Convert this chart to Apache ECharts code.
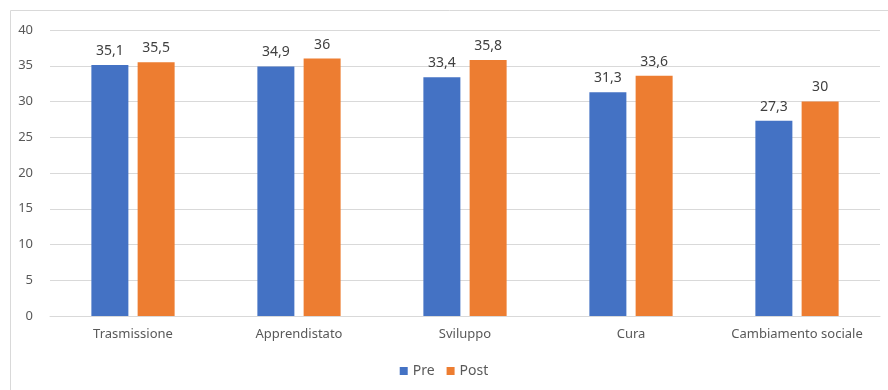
<!DOCTYPE html>
<html>
<head>
<meta charset="utf-8">
<script src="https://cdn.jsdelivr.net/npm/echarts@6/dist/echarts.min.js"></script>
<style>
  html, body { margin: 0; padding: 0; background: #fff; }
  #chart { width: 888px; height: 390px; }
</style>
</head>
<body>
<div id="chart"></div>
<script>
const categories = ['Trasmissione', 'Apprendistato', 'Sviluppo', 'Cura', 'Cambiamento sociale']
const preValues = [35.1, 34.9, 33.4, 31.3, 27.3]
const postValues = [35.5, 36, 35.8, 33.6, 30]

const chart = echarts.init(document.getElementById('chart'))

const fmt = p => String(p.value).replace('.', ',')
const labelStyle = {
  show: true,
  position: 'top',
  distance: 7,
  color: '#404040',
  fontSize: 14,
  fontFamily: 'Noto Sans',
  formatter: fmt
}

const option = {
  animation: false,
  textStyle: { fontFamily: 'Noto Sans' },
  graphic: [{
    type: 'rect',
    shape: { x: 10.5, y: 10.5, width: 900, height: 400 },
    style: { fill: 'none', stroke: '#d9d9d9', lineWidth: 1 },
    silent: true
  }],
  grid: { left: 50, right: 8, top: 30, bottom: 74 },
  legend: {
    bottom: 7,
    left: 'center',
    itemWidth: 8,
    itemHeight: 8,
    itemGap: 12,
    icon: 'rect',
    textStyle: { color: '#595959', fontSize: 14, fontFamily: 'Noto Sans' },
    data: ['Pre', 'Post']
  },
  xAxis: {
    type: 'category',
    data: categories,
    axisLine: { lineStyle: { color: '#d9d9d9' } },
    axisTick: { show: false },
    axisLabel: { color: '#595959', fontSize: 13, margin: 12, interval: 0 }
  },
  yAxis: {
    type: 'value',
    min: 0,
    max: 40,
    interval: 5,
    axisLine: { show: false },
    axisTick: { show: false },
    axisLabel: { color: '#595959', fontSize: 13, margin: 17 },
    splitLine: { lineStyle: { color: '#d9d9d9' } }
  },
  series: [
    {
      name: 'Pre',
      type: 'bar',
      data: preValues,
      barWidth: 37,
      barGap: '25%',
      itemStyle: { color: '#4472c4' },
      label: labelStyle
    },
    {
      name: 'Post',
      type: 'bar',
      data: postValues,
      barWidth: 37,
      itemStyle: { color: '#ed7d31' },
      label: labelStyle
    }
  ]
}

chart.setOption(option)
</script>
</body>
</html>
